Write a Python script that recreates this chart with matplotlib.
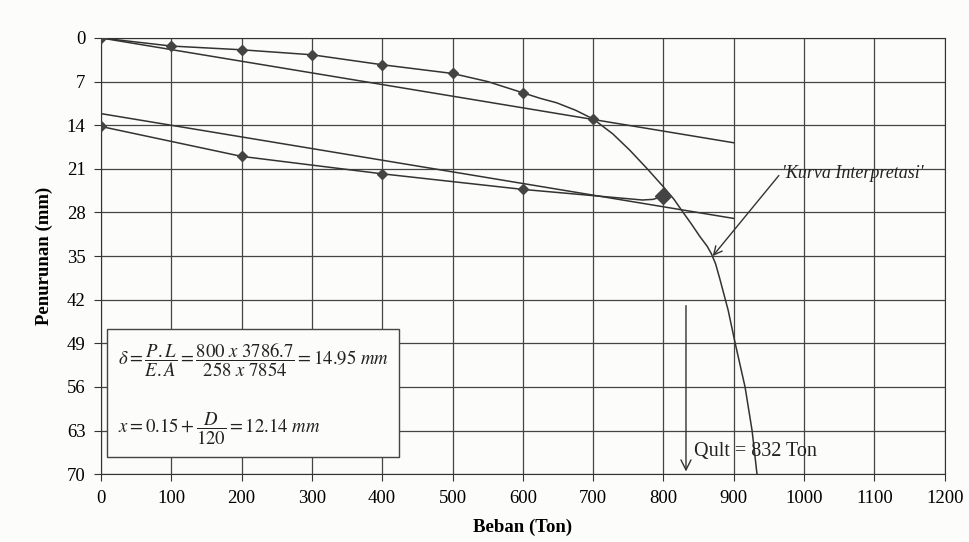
import matplotlib.pyplot as plt

# load test readings (beban in ton, penurunan in mm)
beban_naik = [0, 100, 200, 300, 400, 500, 600, 700]
turun_naik = [0, 1.3, 1.9, 2.7, 4.3, 5.7, 8.8, 13.0]

beban_lepas = [800, 600, 400, 200, 0]
turun_lepas = [25.4, 24.3, 21.8, 19.0, 14.2]

# unloading line as drawn (small hook near 800)
lepas_x = [800, 785, 770, 600, 400, 200, 0]
lepas_y = [25.4, 25.9, 26.0, 24.3, 21.8, 19.0, 14.2]

# interpretation curve
kurva_x = [0, 100, 200, 300, 400, 500, 550, 600, 625, 648, 675, 700, 728, 752, 777, 800,
           815, 828, 840, 852, 862, 868, 874, 880, 892, 902, 916, 926, 933]
kurva_y = [0, 1.3, 1.9, 2.7, 4.3, 5.7, 7.0, 8.8, 9.7, 10.4, 11.6, 13.0, 15.4, 18.0, 21.0, 23.9,
           25.9, 28.0, 29.9, 31.9, 33.4, 34.6, 36.2, 38.6, 43.7, 49.0, 56.0, 63.0, 70.0]

# Davisson lines
elastis_x = [0, 900]
elastis_y = [0, 16.82]
offset_x = [0, 900]
offset_y = [12.14, 28.96]

qult = 832

xticks = list(range(0, 1201, 100))
yticks = list(range(0, 71, 7))

plt.rcParams['font.family'] = ['Liberation Serif', 'DejaVu Serif']
plt.rcParams['mathtext.fontset'] = 'stix'

fig = plt.figure(figsize=(9.7, 5.42), dpi=100, facecolor='#fcfcfa')
ax = fig.add_axes([0.104, 0.125, 0.87, 0.805])
ax.set_facecolor('#fcfcfa')

lc = '#333333'
ax.plot(kurva_x, kurva_y, color=lc, lw=1.1, zorder=3)
ax.plot(lepas_x, lepas_y, color=lc, lw=1.1, zorder=3)
ax.plot(elastis_x, elastis_y, color=lc, lw=1.1, zorder=3)
ax.plot(offset_x, offset_y, color=lc, lw=1.1, zorder=3)
ax.plot(beban_naik, turun_naik, ls='none', marker='D', ms=5, color='#444444', zorder=4)
ax.plot(beban_lepas[1:], turun_lepas[1:], ls='none', marker='D', ms=5, color='#444444', zorder=4)
ax.plot(beban_lepas[:1], turun_lepas[:1], ls='none', marker='D', ms=8, color='#444444', zorder=4)

ax.set_xlim(0, 1200)
ax.set_ylim(70, 0)
ax.set_xticks(xticks)
ax.set_yticks(yticks)
ax.tick_params(labelsize=13.5, direction='out', length=5, color='#333333', pad=6)
ax.grid(True, color='#444444', lw=0.9)
for s in ax.spines.values():
    s.set_color('#333333')

ax.set_xlabel('Beban (Ton)', fontsize=13.5, fontweight='bold', labelpad=9)
ax.set_ylabel('Penurunan (mm)', fontsize=13.5, fontweight='bold', labelpad=10)

# Qult arrow
ax.annotate('', xy=(qult, 70), xytext=(qult, 42.5),
            arrowprops=dict(arrowstyle='->', color=lc, lw=1.0, mutation_scale=18), zorder=5)
ax.text(qult + 12, 66.3, 'Qult = 832 Ton', fontsize=14.5, color='#222222', va='center', zorder=5)

# interpretation label
ax.annotate("'Kurva Interpretasi'", xy=(870, 35), xytext=(968, 21.8),
            fontsize=13, fontstyle='italic', color='#222222', va='center',
            arrowprops=dict(arrowstyle='->', color=lc, lw=1.0, mutation_scale=15,
                            shrinkA=0, shrinkB=0, relpos=(0, 0.6)), zorder=5)

# formula box
ax.text(24, 57, r'$\delta = \dfrac{P.L}{E.A} = \dfrac{800\ x\ 3786.7}{258\ x\ 7854} = 14.95\ mm$'
        + '\n\n' + r'$x = 0.15 + \dfrac{D}{120} = 12.14\ mm$',
        fontsize=13.5, va='center', ha='left', color='#222222', zorder=6, linespacing=1.4,
        bbox=dict(boxstyle='square,pad=0.55', facecolor='#fcfcfa', edgecolor='#444444', lw=1.0))

fig.savefig('out.png', dpi=100, facecolor=fig.get_facecolor())
